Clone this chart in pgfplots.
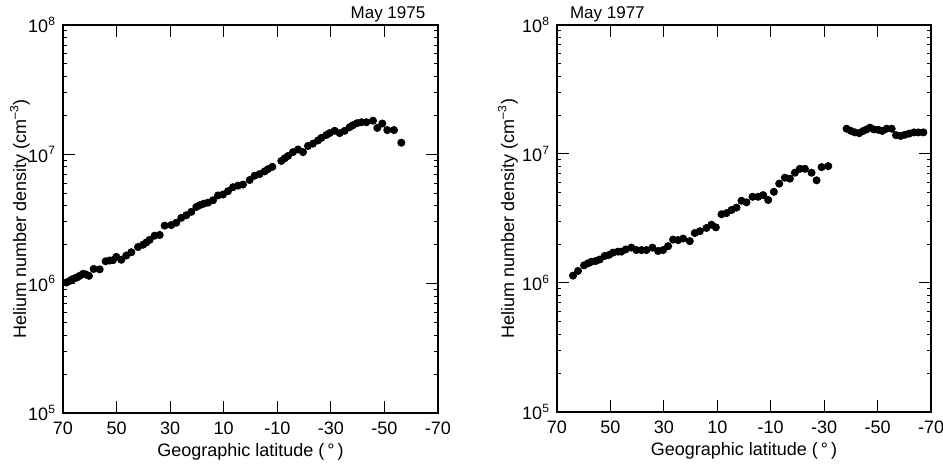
\documentclass[border=0pt]{standalone}
\usepackage{fontspec}
\setmainfont{Liberation Sans}
\usepackage{pgfplots}
\pgfplotsset{compat=1.18}

\begin{document}
\begin{tikzpicture}[x=1pt,y=1pt]
\useasboundingbox (0,0) rectangle (471.5,232.5);

\begin{axis}[at={(31.5pt,26pt)}, anchor=south west,
  width=187.5pt, height=194pt,
  scale only axis,
  xmin=-70, xmax=70, x dir=reverse,
  ymode=log, ymin=1e5, ymax=1e8,
  xtick={70,50,30,10,-10,-30,-50,-70},
  xticklabels={70,50,30,10,-10,-30,-50,-70},
  ytick={1e5,1e6,1e7,1e8},
  yticklabels={10\textsuperscript{5},10\textsuperscript{6},10\textsuperscript{7},10\textsuperscript{8}},
  tick align=inside,
  major tick length=6pt, minor tick length=2pt,
  axis line style={line width=0.7pt},
  every tick/.style={black, line width=0.5pt},
  ticklabel style={font=\fontsize{9}{10}\selectfont},
  xticklabel style={yshift=-1pt},
  label style={font=\fontsize{9}{11}\selectfont},
  xlabel={Geographic latitude (\,°\,)},
  ylabel={Helium number density (cm\textsuperscript{–3})},
  xlabel style={at={(axis description cs:0.5,0)}, anchor=center, yshift=-19.5pt},
  ylabel style={at={(axis description cs:0,0.5)}, anchor=center, rotate=0, yshift=21.5pt},
  clip=false]
\addplot[only marks, mark=*, mark size=1.8pt, black] coordinates {
(68.76,1.02e6) (67.51,1.05e6) (66.52,1.08e6) (65.64,1.10e6) (64.65,1.12e6)
(63.78,1.15e6) (62.53,1.19e6) (61.54,1.18e6) (60.29,1.15e6) (58.55,1.30e6)
(56.31,1.29e6) (54.07,1.49e6) (52.58,1.51e6) (51.33,1.52e6) (50.09,1.61e6)
(48.22,1.53e6) (46.36,1.65e6) (44.49,1.75e6) (42.0,1.92e6) (40.13,2.00e6)
(38.89,2.08e6) (37.65,2.18e6) (35.78,2.35e6) (33.91,2.38e6) (32.04,2.81e6)
(29.56,2.84e6) (27.69,2.96e6) (25.82,3.23e6) (23.96,3.38e6) (22.09,3.59e6)
(20.22,3.92e6) (18.98,4.04e6) (17.49,4.15e6) (15.87,4.23e6) (14.0,4.41e6)
(12.13,4.81e6) (10.27,4.89e6) (8.40,5.19e6) (6.53,5.57e6) (4.67,5.73e6)
(2.80,5.84e6) (0.31,6.33e6) (-1.56,6.84e6) (-3.42,7.04e6) (-5.29,7.38e6)
(-6.53,7.68e6) (-8.15,8.00e6) (-11.51,8.89e6) (-12.76,9.31e6) (-14.0,9.71e6)
(-15.87,1.04e7) (-17.74,1.09e7) (-19.6,1.04e7) (-21.47,1.16e7) (-23.33,1.21e7)
(-25.2,1.28e7) (-26.44,1.34e7) (-28.31,1.41e7) (-29.56,1.46e7) (-31.42,1.52e7)
(-33.29,1.46e7) (-35.16,1.52e7) (-37.02,1.62e7) (-38.27,1.68e7) (-39.76,1.74e7)
(-41.38,1.77e7) (-43.24,1.77e7) (-45.73,1.82e7) (-47.35,1.60e7) (-49.22,1.73e7)
(-51.08,1.54e7) (-53.57,1.54e7) (-56.31,1.23e7)
};
\node[anchor=base east, yshift=3pt, font=\fontsize{8.5}{10}\selectfont] at (rel axis cs:0.985,1) {May 1975};
\end{axis}

\begin{axis}[at={(278.5pt,26.5pt)}, anchor=south west,
  width=187pt, height=193.5pt,
  scale only axis,
  xmin=-70, xmax=70, x dir=reverse,
  ymode=log, ymin=1e5, ymax=1e8,
  xtick={70,50,30,10,-10,-30,-50,-70},
  xticklabels={70,50,30,10,-10,-30,-50,-70},
  ytick={1e5,1e6,1e7,1e8},
  yticklabels={10\textsuperscript{5},10\textsuperscript{6},10\textsuperscript{7},10\textsuperscript{8}},
  tick align=inside,
  major tick length=6pt, minor tick length=2pt,
  axis line style={line width=0.7pt},
  every tick/.style={black, line width=0.5pt},
  ticklabel style={font=\fontsize{9}{10}\selectfont},
  xticklabel style={yshift=-1pt},
  label style={font=\fontsize{9}{11}\selectfont},
  xlabel={Geographic latitude (\,°\,)},
  ylabel={Helium number density (cm\textsuperscript{–3})},
  xlabel style={at={(axis description cs:0.5,0)}, anchor=center, yshift=-19.5pt},
  ylabel style={at={(axis description cs:0,0.5)}, anchor=center, rotate=0, yshift=24.5pt},
  clip=false]
\addplot[only marks, mark=*, mark size=1.8pt, black] coordinates {
(64.01,1.14e6) (62.13,1.24e6) (59.88,1.37e6) (58.39,1.42e6) (57.14,1.46e6)
(55.51,1.48e6) (54.01,1.52e6) (52.14,1.62e6) (50.52,1.65e6) (49.02,1.72e6)
(47.15,1.75e6) (45.90,1.75e6) (44.27,1.82e6) (42.15,1.88e6) (40.28,1.80e6)
(38.40,1.80e6) (36.53,1.80e6) (34.28,1.88e6) (32.16,1.77e6) (30.29,1.80e6)
(28.41,1.93e6) (26.54,2.17e6) (24.67,2.15e6) (22.79,2.21e6) (20.29,2.11e6)
(18.42,2.44e6) (16.55,2.52e6) (14.05,2.67e6) (12.18,2.83e6) (10.55,2.70e6)
(8.43,3.41e6) (6.56,3.48e6) (4.68,3.68e6) (2.81,3.84e6) (0.94,4.34e6)
(-0.94,4.22e6) (-3.19,4.66e6) (-5.31,4.66e6) (-7.18,4.80e6) (-9.06,4.40e6)
(-11.18,5.09e6) (-13.18,5.89e6) (-15.30,6.55e6) (-17.17,6.44e6) (-19.05,7.16e6)
(-20.92,7.68e6) (-22.79,7.68e6) (-25.29,7.16e6) (-27.16,6.25e6) (-29.04,7.91e6)
(-31.54,8.05e6)
(-38.40,1.57e7) (-40.03,1.51e7) (-41.53,1.47e7) (-43.15,1.45e7) (-44.65,1.51e7)
(-45.90,1.55e7) (-47.15,1.60e7) (-48.65,1.55e7) (-50.27,1.54e7) (-51.77,1.51e7)
(-53.39,1.57e7) (-55.27,1.57e7) (-56.89,1.40e7) (-58.64,1.38e7) (-60.26,1.41e7)
(-61.88,1.44e7) (-63.63,1.47e7) (-65.25,1.47e7) (-67.13,1.47e7)
};
\node[anchor=base west, yshift=3pt, font=\fontsize{8.5}{10}\selectfont] at (rel axis cs:0.016,1) {May 1977};
\end{axis}
\end{tikzpicture}
\end{document}
